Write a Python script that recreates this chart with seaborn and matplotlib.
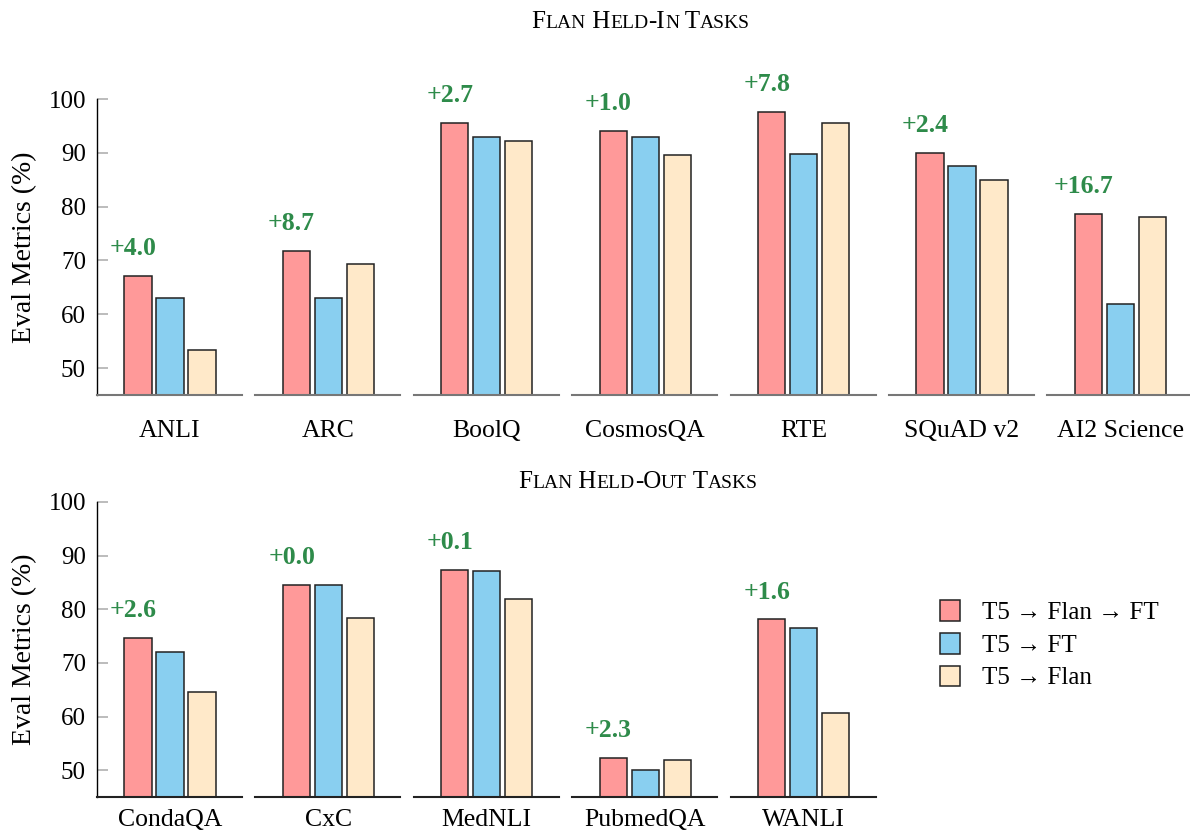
import numpy as np
import pandas as pd
import matplotlib
matplotlib.use("Agg")
import matplotlib.pyplot as plt
import seaborn as sns
from matplotlib.patches import Patch
from matplotlib.offsetbox import TextArea, HPacker, AnchoredOffsetbox

models = ["T5 → Flan → FT", "T5 → FT", "T5 → Flan"]
colors = ["#FF9999", "#89CFF0", "#FFE9C9"]

held_in_tasks = ["ANLI", "ARC", "BoolQ", "CosmosQA", "RTE", "SQuAD v2", "AI2 Science"]
held_in_flan_ft = [67.1, 71.8, 95.6, 94.0, 97.6, 89.9, 78.7]
held_in_ft = [63.1, 63.1, 92.9, 93.0, 89.8, 87.5, 62.0]
held_in_flan = [53.3, 69.4, 92.2, 89.6, 95.6, 84.9, 78.0]
held_in_gain = ["+4.0", "+8.7", "+2.7", "+1.0", "+7.8", "+2.4", "+16.7"]

held_out_tasks = ["CondaQA", "CxC", "MedNLI", "PubmedQA", "WANLI"]
held_out_flan_ft = [74.7, 84.5, 87.3, 52.3, 78.1]
held_out_ft = [72.1, 84.5, 87.2, 50.0, 76.5]
held_out_flan = [64.5, 78.4, 81.9, 51.9, 60.6]
held_out_gain = ["+2.6", "+0.0", "+0.1", "+2.3", "+1.6"]

yticks = [50, 60, 70, 80, 90, 100]

sns.set_theme(style="white")
plt.rcParams["font.family"] = ["Liberation Serif", "DejaVu Serif"]
plt.rcParams["text.color"] = "black"
plt.rcParams["axes.labelcolor"] = "black"
plt.rcParams["xtick.color"] = "black"
plt.rcParams["ytick.color"] = "black"

W, H = 1190, 840
fig = plt.figure(figsize=(W / 100, H / 100), dpi=100)
green = "#2E8B4A"


def small_caps(text, x, y, big=18, small=14):
    # fake small caps: lowercase runs drawn as smaller capitals
    runs = []
    for ch in text:
        low = ch.islower()
        if runs and runs[-1][1] == low:
            runs[-1][0] += ch
        else:
            runs.append([ch, low])
    parts = [TextArea(s.upper(), textprops=dict(fontsize=small if low else big, color="black",
                                                 family=["Liberation Serif", "DejaVu Serif"]))
             for s, low in runs]
    box = HPacker(children=parts, align="baseline", pad=0, sep=0)
    ab = AnchoredOffsetbox(loc="center", child=box, pad=0, borderpad=0, frameon=False,
                           bbox_to_anchor=(x / W, 1 - y / H), bbox_transform=fig.transFigure)
    fig.add_artist(ab)


def add_row(tasks, flan_ft, ft, flan, gains, top_px, bottom_px, line_color, label_pad):
    df = pd.DataFrame({
        "task": np.repeat(tasks, 3),
        "model": models * len(tasks),
        "value": np.column_stack([flan_ft, ft, flan]).ravel(),
    })
    for i, task in enumerate(tasks):
        left = 97 + i * 158.4
        ax = fig.add_axes([left / W, 1 - bottom_px / H, 145 / W, (bottom_px - top_px) / H])
        sub = df[df["task"] == task]
        sns.barplot(data=sub, x="model", y="value", hue="model", order=models,
                    hue_order=models, palette=colors, saturation=1, width=0.85,
                    edgecolor="#222222", linewidth=1.1, errorbar=None, legend=False, ax=ax)
        ax.text(-0.15, flan_ft[i] + 3.9, gains[i], ha="center", va="baseline",
                color=green, fontweight="bold", fontsize=18.5, clip_on=False)
        ax.set_ylim(45, 100)
        ax.set_xlim(-1.28, 3.25)
        ax.set_xticks([1])
        ax.set_xticklabels([task])
        ax.set_xlabel("")
        ax.set_ylabel("")
        ax.tick_params(axis="x", length=0, pad=label_pad, labelsize=18.5)
        ax.spines["top"].set_visible(False)
        ax.spines["right"].set_visible(False)
        ax.spines["bottom"].set_color(line_color)
        ax.spines["bottom"].set_linewidth(1.5)
        if i == 0:
            ax.set_yticks(yticks)
            ax.tick_params(axis="y", left=True, direction="in", length=8, width=1.2,
                           color="#b0b0b0", labelcolor="black", labelsize=18, pad=8)
            ax.spines["left"].set_color("black")
            ax.spines["left"].set_linewidth(1.0)
            ax.set_ylabel("Eval Metrics (%)", fontsize=20, labelpad=8)
        else:
            ax.set_yticks([])
            ax.spines["left"].set_visible(False)


add_row(held_in_tasks, held_in_flan_ft, held_in_ft, held_in_flan, held_in_gain, 99, 395, "#777777", 18)
add_row(held_out_tasks, held_out_flan_ft, held_out_ft, held_out_flan, held_out_gain, 502, 797, "#222222", 9)

small_caps("Flan Held-In Tasks", 641, 22)
small_caps("Flan Held-Out Tasks", 638, 482)

handles = [Patch(facecolor=c, edgecolor="#222222", linewidth=1.1, label=m)
           for c, m in zip(colors, models)]
fig.legend(handles=handles, loc="upper left", bbox_to_anchor=(930 / W, 1 - 590 / H),
           frameon=False, fontsize=18, handlelength=0.8, handleheight=0.9,
           handletextpad=0.9, labelspacing=0.35, borderaxespad=0)

fig.savefig("out.png", dpi=100)
